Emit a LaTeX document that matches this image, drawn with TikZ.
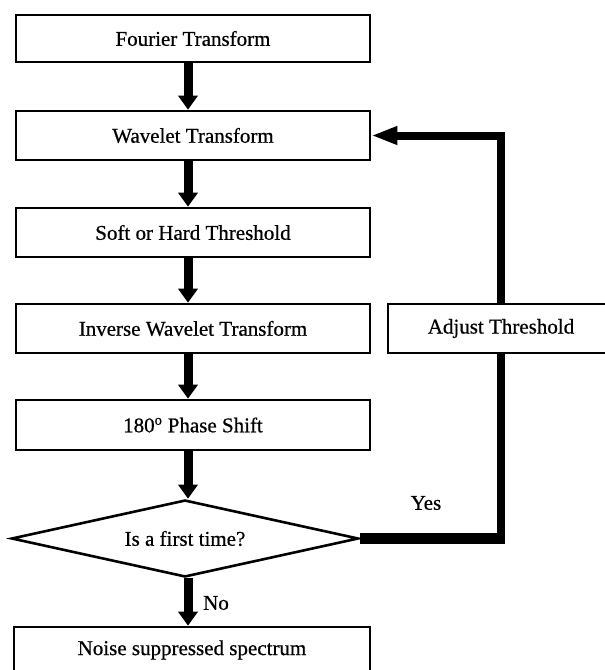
\documentclass[tikz,border=0pt]{standalone}
\usepackage{fontspec}
\setmainfont{Liberation Serif}[FakeBold=0.6]
\usetikzlibrary{arrows.meta,shapes.geometric}
\begin{document}
\begin{tikzpicture}[x=1pt,y=-1pt,
  box/.style={draw=black,line width=2.6pt,rectangle,minimum width=354pt,inner sep=0pt,
    font=\fontsize{21}{25}\selectfont},
  flow/.style={line width=9pt,-{Triangle[width=19pt,length=14pt]}},
  fb/.style={line width=8pt},
  lbl/.style={font=\fontsize{21}{25}\selectfont,inner sep=0pt}]
\useasboundingbox (0,0) rectangle (605,670);
\coordinate (ax) at (188,0);
\node[box,minimum height=47pt] (four) at (193,38.5) {Fourier Transform};
\node[box,minimum height=49pt] (wav) at (193,135.5) {Wavelet Transform};
\node[box,minimum height=49pt] (soft) at (193,232.5) {Soft or Hard Threshold};
\node[box,minimum height=49pt] (inv) at (193,328.5) {Inverse Wavelet Transform};
\node[box,minimum height=49pt,minimum width=226pt] (adj) at (501,328.5) {Adjust Threshold};
\node[box,minimum height=50pt] (phase) at (193,425) {180\textsuperscript{o} Phase Shift};
\node[draw=black,line width=2.6pt,diamond,aspect=4.5,minimum width=347pt,minimum height=77pt,inner sep=0pt,
  font=\fontsize{21}{25}\selectfont] (dia) at (185,538.5) {Is a first time?};
\node[box,minimum height=46pt,minimum width=356pt] (noise) at (192,650) {Noise suppressed spectrum};
\node[lbl] (yes) at (426,503) {Yes};
\node[lbl] (no) at (216,603) {No};
\draw[flow] (four.south -| ax) -- (wav.north -| ax);
\draw[flow] (wav.south -| ax) -- (soft.north -| ax);
\draw[flow] (soft.south -| ax) -- (inv.north -| ax);
\draw[flow] (inv.south -| ax) -- (phase.north -| ax);
\draw[flow] (phase.south -| ax) -- (dia.north -| ax);
\draw[flow] (dia.south -| ax) -- (noise.north -| ax);
\coordinate (corner) at (dia.east -| adj.south);
\draw[line width=11pt] (dia.east) -- ([xshift=4pt]corner);
\draw[fb] ([yshift=5.5pt]corner) -- (adj.south);
\draw[fb,line join=miter,-{Triangle[width=17pt,length=26pt]}] (adj.north) -- (adj.north |- wav.east) -- (wav.east);
\end{tikzpicture}
\end{document}
